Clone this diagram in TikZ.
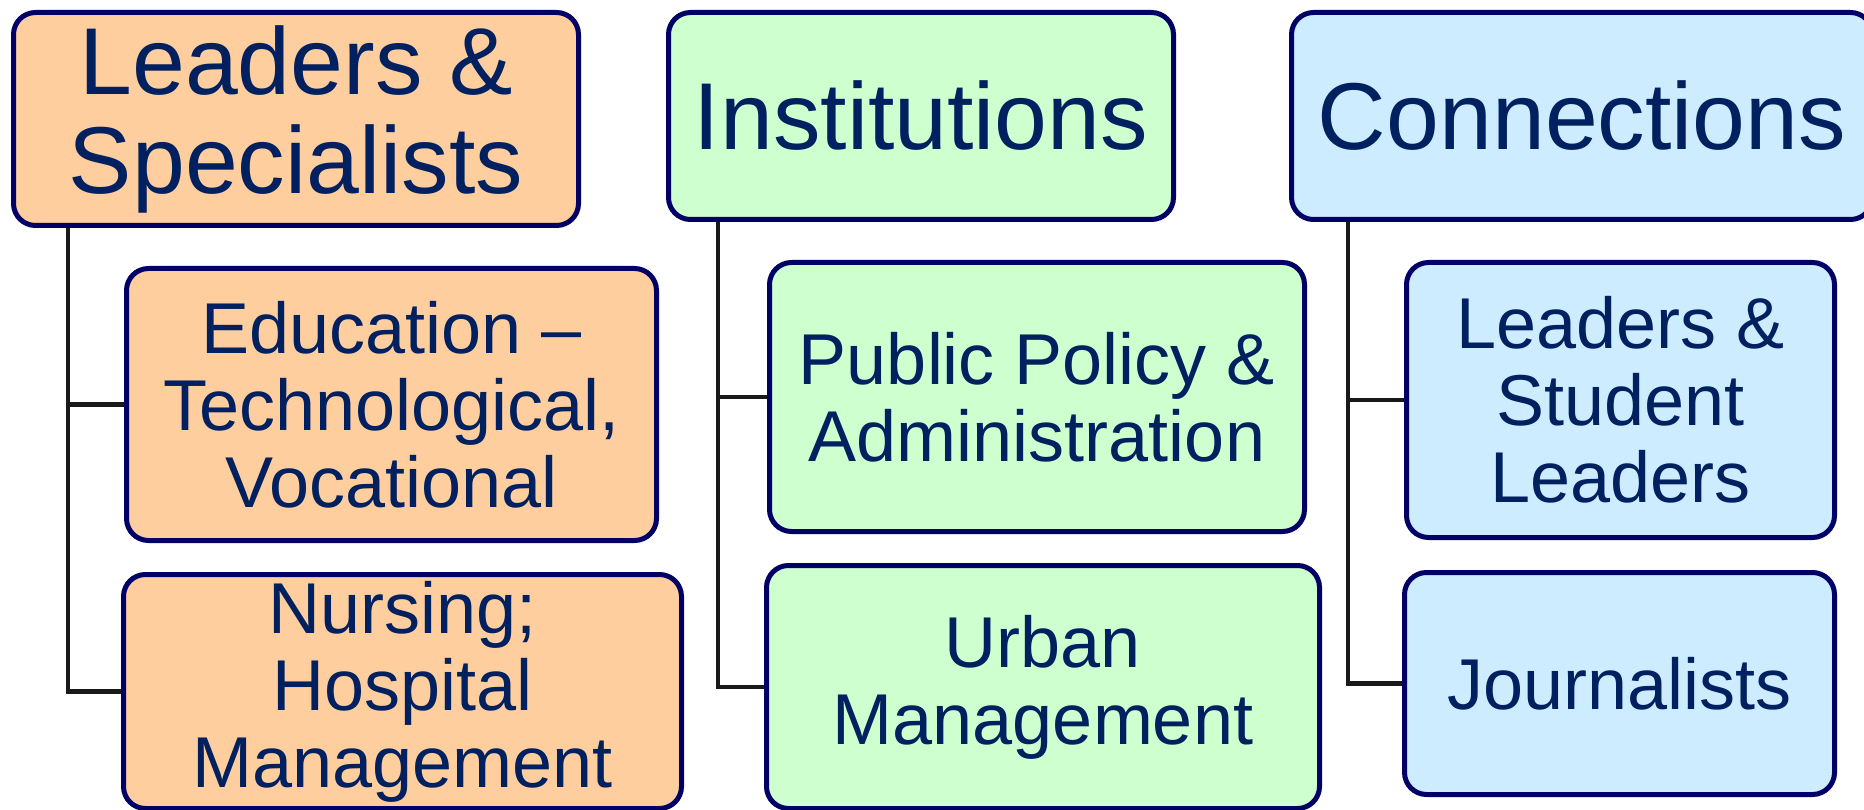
\documentclass[tikz,border=0pt]{standalone}
\usepackage{fontspec}
\setmainfont{Liberation Sans}
\usetikzlibrary{backgrounds}
\definecolor{txt}{RGB}{0,32,96}
\definecolor{bord}{RGB}{0,0,102}
\definecolor{peach}{RGB}{255,206,158}
\definecolor{mint}{RGB}{206,255,206}
\definecolor{sky}{RGB}{206,236,255}
\begin{document}
\begin{tikzpicture}[x=1pt,y=1pt,
  box/.style={draw=bord, line width=5pt, rounded corners=22pt, inner sep=0pt, align=center, text=txt, anchor=north west},
  head/.style={box, font=\fontsize{95}{99}\selectfont},
  sub/.style={box, font=\fontsize{72}{77}\selectfont},
  link/.style={line width=4.2pt, draw=black!90}]
\useasboundingbox (0,0) rectangle (1864,-810);
% column 1
\node[head, fill=peach, minimum width=565pt, minimum height=213pt] (p1) at (11,-10) {Leaders \&\\Specialists};
\node[sub, fill=peach, minimum width=530pt, minimum height=272pt] (c1a) at (124,-266) {Education --\\Technological,\\Vocational};
\node[sub, fill=peach, minimum width=558pt, minimum height=234pt] (c1b) at (121,-572) {Nursing;\\Hospital\\Management};
% column 2
\node[head, fill=mint, minimum width=505pt, minimum height=207pt] (p2) at (666,-10) {Institutions};
\node[sub, fill=mint, minimum width=535pt, minimum height=269pt] (c2a) at (767,-260) {Public Policy \&\\Administration};
\node[sub, fill=mint, minimum width=553pt, minimum height=243pt] (c2b) at (764,-563) {Urban\\Management};
% column 3
\node[head, fill=sky, minimum width=581pt, minimum height=207pt] (p3) at (1289,-10) {Connections};
\node[sub, fill=sky, minimum width=428pt, minimum height=275pt] (c3a) at (1404,-260) {Leaders \&\\Student\\Leaders};
\node[sub, fill=sky, minimum width=430pt, minimum height=222pt] (c3b) at (1402,-570) {Journalists};
% connectors
\begin{scope}[on background layer]
\draw[link] ([xshift=57pt]p1.south west) |- (c1a.west);
\draw[link] ([xshift=57pt]p1.south west) |- (c1b.west);
\draw[link] ([xshift=52pt]p2.south west) |- (c2a.west);
\draw[link] ([xshift=52pt]p2.south west) |- (c2b.west);
\draw[link] ([xshift=59pt]p3.south west) |- (c3a.west);
\draw[link] ([xshift=59pt]p3.south west) |- (c3b.west);
\end{scope}
\end{tikzpicture}
\end{document}
